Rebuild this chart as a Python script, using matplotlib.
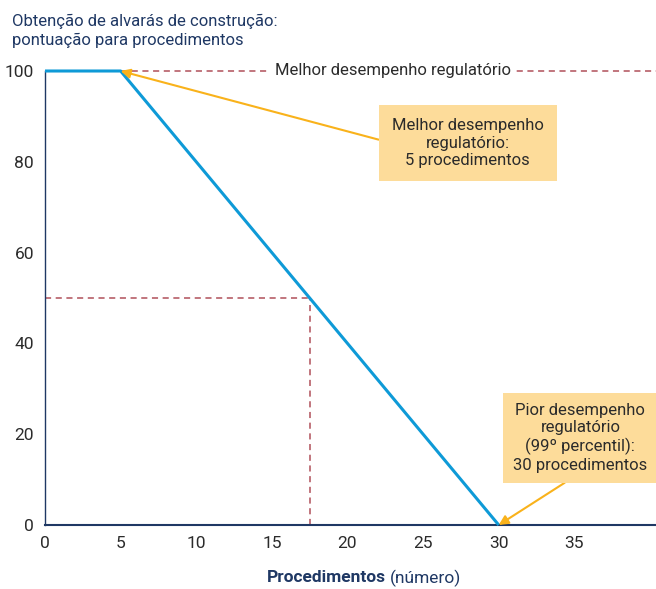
import matplotlib
matplotlib.use("Agg")
import matplotlib.pyplot as plt

plt.rcParams['font.family'] = ['Roboto', 'DejaVu Sans']

# Data
procedures = [0, 5, 30]
scores = [100, 100, 0]
x_ticks = [0, 5, 10, 15, 20, 25, 30, 35]
y_ticks = [0, 20, 40, 60, 80, 100]
best_x, best_y = 5, 100
worst_x, worst_y = 30, 0
example_x, example_y = 17.5, 50

blue = '#0e9ad7'
orange = '#f9b21b'
boxc = '#fddc9a'
red = '#b0505a'
navy = '#1f3864'
txt = '#2b2b2b'

fig = plt.figure(figsize=(6.56, 5.89), dpi=100)
ax = fig.add_axes([45/656, 1-525/589, 1-45/656, (525-71)/589])
ax.set_xlim(0, 40.4)
ax.set_ylim(0, 100)

# reference lines
ax.plot([best_x, 40.4], [100, 100], ls=(0, (4, 3)), color=red, lw=1.1, clip_on=False, zorder=1)
ax.plot([0, example_x], [example_y, example_y], ls=(0, (4, 3)), color=red, lw=1.1, zorder=1)
ax.plot([example_x, example_x], [0, example_y], ls=(0, (4, 3)), color=red, lw=1.1, zorder=1)

ax.plot(procedures, scores, color=blue, lw=2.2, clip_on=False, zorder=3, solid_capstyle='butt')

ax.text(23.0, 100, 'Melhor desempenho regulatório', ha='center', va='center',
        fontsize=12, color=txt, bbox=dict(boxstyle='square,pad=0.3', fc='white', ec='none'), zorder=2)

ax.annotate('Melhor desempenho\nregulatório:\n5 procedimentos', xy=(best_x, best_y), xytext=(27.96, 84.1),
            ha='center', va='center', fontsize=12, color=txt, linespacing=1.2,
            bbox=dict(boxstyle='square,pad=0.8', fc=boxc, ec='none'),
            arrowprops=dict(arrowstyle='-|>', color=orange, lw=1.5, mutation_scale=14,
                            relpos=(0, 0.5), shrinkA=0, shrinkB=0),
            zorder=4, annotation_clip=False)

ax.annotate('Pior desempenho\nregulatório\n(99º percentil):\n30 procedimentos', xy=(worst_x, worst_y),
            xytext=(35.4, 19.2), ha='center', va='center', fontsize=12, color=txt, linespacing=1.2,
            bbox=dict(boxstyle='square,pad=0.6', fc=boxc, ec='none'),
            arrowprops=dict(arrowstyle='-|>', color=orange, lw=1.5, mutation_scale=14,
                            relpos=(0.5, 0), shrinkA=0, shrinkB=0),
            zorder=4, annotation_clip=False)

ax.set_xticks(x_ticks)
ax.set_yticks(y_ticks)
ax.tick_params(length=0, labelsize=12.5, colors=txt, pad=8)
for s in ['top', 'right']:
    ax.spines[s].set_visible(False)
ax.spines['left'].set_color(navy)
ax.spines['bottom'].set_color(navy)
ax.spines['bottom'].set_linewidth(1.5)
ax.spines['left'].set_linewidth(1.0)

fig.text(12/656, 1-31/589, 'Obtenção de alvarás de construção:\npontuação para procedimentos',
         ha='left', va='center', fontsize=12, color=navy, linespacing=1.25)

fig.text(386/656, 1-578/589, 'Procedimentos', ha='right', va='center', fontsize=12.5,
         color=navy, fontweight='bold')
fig.text(390/656, 1-578/589, '(número)', ha='left', va='center', fontsize=12.5, color=navy)

fig.savefig('out.png', dpi=100)
